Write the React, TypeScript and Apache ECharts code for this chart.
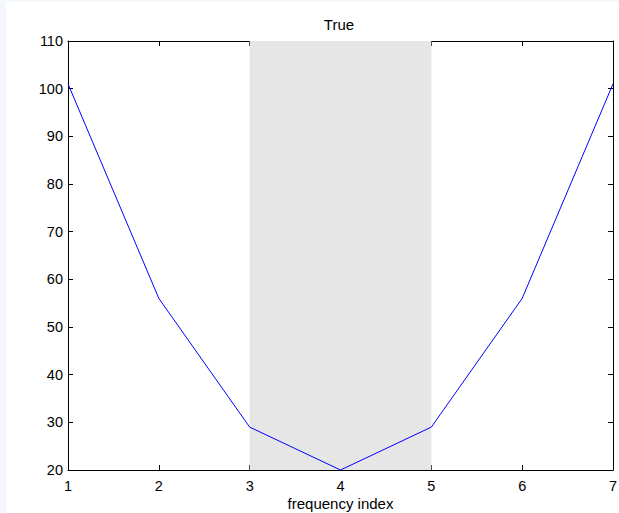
import React, { useEffect, useRef } from "react";
import * as echarts from "echarts";

const xValues = [1, 2, 3, 4, 5, 6, 7];
const trueValues = [101, 56, 29, 20, 29, 56, 101];
const bandRange = [3, 5];
const titleText = "True";
const xName = "frequency index";

export default function App() {
  const ref = useRef<HTMLDivElement>(null);
  useEffect(() => {
    const chart = echarts.init(ref.current!, null, { renderer: "svg" });
    const font = "'Liberation Sans', Arial, Helvetica, sans-serif";
    const axisCommon = {
      axisLine: { show: true, lineStyle: { color: "#000", width: 1 } },
      axisTick: { show: true, inside: true, length: 5, lineStyle: { color: "#000" } },
      splitLine: { show: false },
    };
    chart.setOption({
      animation: false,
      backgroundColor: "#fff",
      title: {
        text: titleText,
        left: 334,
        top: 12,
        textAlign: "center",
        textStyle: { fontFamily: font, fontSize: 15, fontWeight: "normal", color: "#000" },
      },
      graphic: [
        { type: "rect", shape: { x: 0, y: 0, width: 6, height: 513 }, style: { fill: "#f4f8fc" }, z: -10 },
        { type: "rect", shape: { x: 0, y: 0, width: 619, height: 2 }, style: { fill: "#f4f8fc" }, z: -10 },
      ],
      grid: { left: 68, right: 6, top: 41, bottom: 43, containLabel: false, outerBoundsMode: "none" },
      xAxis: [
        {
          type: "value",
          min: 1,
          max: 7,
          interval: 1,
          position: "bottom",
          name: xName,
          nameLocation: "middle",
          nameGap: 26,
          nameMoveOverlap: false,
          nameTextStyle: { fontFamily: font, fontSize: 15, color: "#000" },
          axisLabel: { fontFamily: font, fontSize: 14.5, color: "#000", margin: 8 },
          ...axisCommon,
        },
        {
          type: "value",
          min: 1,
          max: 7,
          interval: 1,
          position: "top",
          axisLabel: { show: false },
          ...axisCommon,
        },
      ],
      yAxis: [
        {
          type: "value",
          min: 20,
          max: 110,
          interval: 10,
          position: "left",
          axisLabel: { fontFamily: font, fontSize: 14.5, color: "#000", margin: 5 },
          ...axisCommon,
        },
        {
          type: "value",
          min: 20,
          max: 110,
          interval: 10,
          position: "right",
          axisLabel: { show: false },
          ...axisCommon,
        },
      ],
      series: [
        {
          type: "line",
          data: xValues.map((x, i) => [x, trueValues[i]]),
          showSymbol: false,
          lineStyle: { color: "#0000ff", width: 1 },
          itemStyle: { color: "#0000ff" },
          markArea: {
            silent: true,
            itemStyle: { color: "#e6e6e6" },
            data: [[{ xAxis: bandRange[0] }, { xAxis: bandRange[1] }]],
          },
        },
      ],
    });
    return () => chart.dispose();
  }, []);
  return (
    <div
      ref={ref}
      style={{ position: "fixed", left: 0, top: 0, width: 619, height: 513 }}
    />
  );
}
